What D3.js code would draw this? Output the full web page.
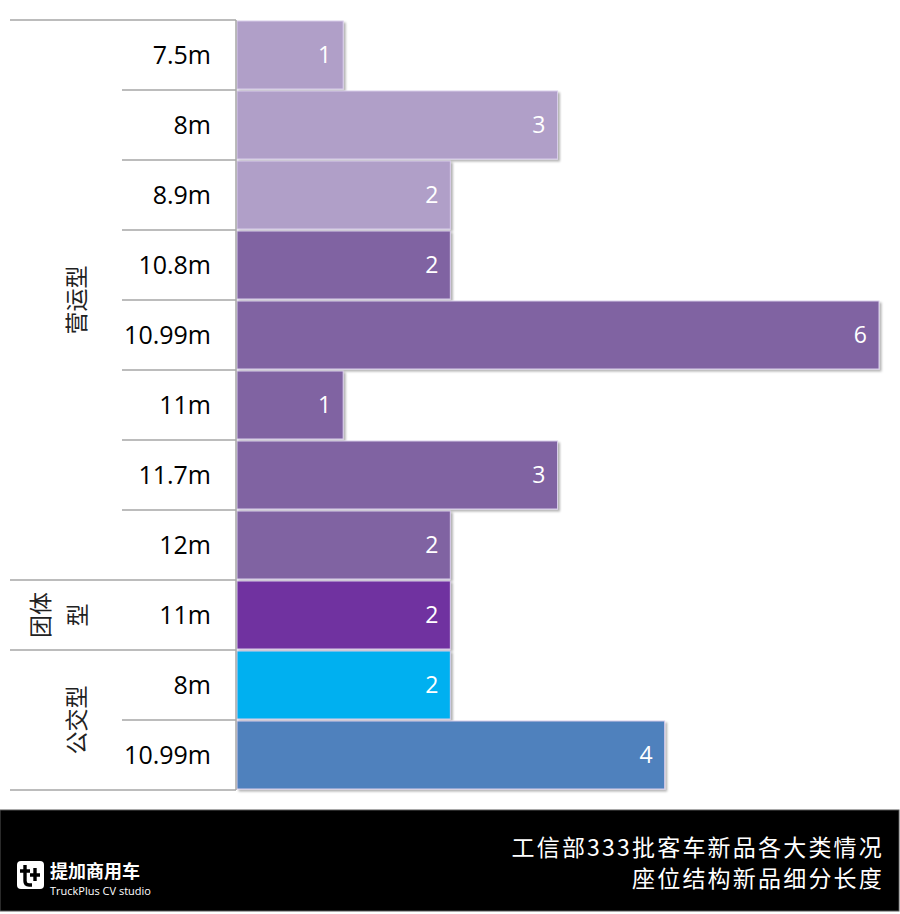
<!DOCTYPE html>
<html><head><meta charset="utf-8">
<script src="https://cdn.jsdelivr.net/npm/d3@7"></script>
<style>
body{margin:0;background:#fff;}
svg{display:block;}
</style></head>
<body>
<svg id="c" width="900" height="914"></svg>
<script>
const categories = ["7.5m","8m","8.9m","10.8m","10.99m","11m","11.7m","12m","11m","8m","10.99m"];
const values = [1,3,2,2,6,1,3,2,2,2,4];
const barColors = ["#B09FC8","#B09FC8","#B09FC8","#8064A2","#8064A2","#8064A2","#8064A2","#8064A2","#7030A0","#00B0F0","#4F81BD"];
const groups = [
  {lines:["营运型"], start:0, end:7},
  {lines:["团体","型"], start:8, end:8},
  {lines:["公交型"], start:9, end:10}
];
const titleLines = ["工信部333批客车新品各大类情况","座位结构新品细分长度"];

const svg = d3.select("#c");
const defs = svg.append("defs");
const f = defs.append("filter").attr("id","sh").attr("x","-5%").attr("y","-10%").attr("width","115%").attr("height","140%");
f.append("feDropShadow").attr("dx",2).attr("dy",2).attr("stdDeviation",1.2).attr("flood-color","#000").attr("flood-opacity",0.3);

const idx = d3.range(categories.length);
const y = d3.scaleBand().domain(idx).range([20,790]).paddingInner(0);
const x = d3.scaleLinear().domain([0,6]).range([236,879]);
const font = "'Open Sans','Noto Sans',sans-serif";

// bars
svg.append("g").selectAll("rect").data(idx).join("rect")
  .attr("x", x(0)+1)
  .attr("y", i=>y(i)+1)
  .attr("width", i=>x(values[i])-x(0)-1)
  .attr("height", y.bandwidth()-2)
  .attr("fill", i=>barColors[i])
  .attr("stroke","#D8CCEA").attr("stroke-width",1)
  .attr("filter","url(#sh)");

// value labels
svg.append("g").selectAll("text").data(idx).join("text")
  .attr("x", i=>x(values[i])-12)
  .attr("y", i=>y(i)+y.bandwidth()/2)
  .attr("dy","0.36em")
  .attr("text-anchor","end")
  .attr("fill","#fff")
  .attr("font-family",font).attr("font-size",23)
  .text(i=>values[i]);

// category axis labels
svg.append("g").selectAll("text").data(idx).join("text")
  .attr("x", 211)
  .attr("y", i=>y(i)+y.bandwidth()/2)
  .attr("dy","0.36em")
  .attr("text-anchor","end")
  .attr("fill","#000")
  .attr("font-family",font).attr("font-size",25)
  .text(i=>categories[i]);

// axis line
const ax = svg.append("g").attr("stroke","#A6A6A6").attr("stroke-width",1.5);
ax.append("line").attr("x1",236).attr("x2",236).attr("y1",20).attr("y2",790);
// separators
const groupStarts = new Set(groups.map(g=>g.start));
d3.range(categories.length+1).forEach(i=>{
  const yy = i<categories.length ? y(i) : y(categories.length-1)+y.bandwidth();
  const full = i===categories.length || groupStarts.has(i);
  ax.append("line").attr("x1", full?10:122).attr("x2",236).attr("y1",yy).attr("y2",yy);
});

// group labels
groups.forEach(g=>{
  const cy = (y(g.start) + y(g.end)+y.bandwidth())/2;
  const n = g.lines.length;
  g.lines.forEach((t,k)=>{
    const cx = n===1 ? 77 : (k===0 ? 41 : 78);
    svg.append("text")
      .attr("transform",`translate(${cx},${cy}) rotate(-90)`)
      .attr("text-anchor","middle").attr("dy","0.36em")
      .attr("font-family","'Noto Sans CJK SC',sans-serif").attr("font-size",23)
      .attr("fill","#222").text(t);
  });
});

// footer
svg.append("rect").attr("x",0).attr("y",810).attr("width",899).attr("height",101).attr("fill","#000").attr("stroke","#555").attr("stroke-width",1);
titleLines.forEach((t,k)=>{
  svg.append("text").attr("x",884).attr("y",856+k*31).attr("text-anchor","end")
    .attr("fill","#fff").attr("font-family","'Noto Sans CJK SC',sans-serif").attr("font-size",23)
    .attr("letter-spacing",2.2)
    .text(t);
});
// logo
const lg = svg.append("g").attr("transform","translate(17,861)");
lg.append("rect").attr("width",27).attr("height",28).attr("rx",4).attr("fill","#fff");
lg.append("path").attr("d","M8 4 V20 Q8 24 12 24 H15 M3 10 H13 M18 7 V20 M13 14 H23").attr("stroke","#000").attr("stroke-width",3.4).attr("fill","none");
svg.append("text").attr("x",50).attr("y",878).attr("fill","#fff").attr("font-family","'Noto Sans CJK SC',sans-serif").attr("font-weight",700).attr("font-size",18).text("提加商用车");
svg.append("text").attr("x",50).attr("y",895).attr("fill","#fff").attr("font-family","'Open Sans',sans-serif").attr("font-size",11).text("TruckPlus CV studio");
</script>
</body></html>
